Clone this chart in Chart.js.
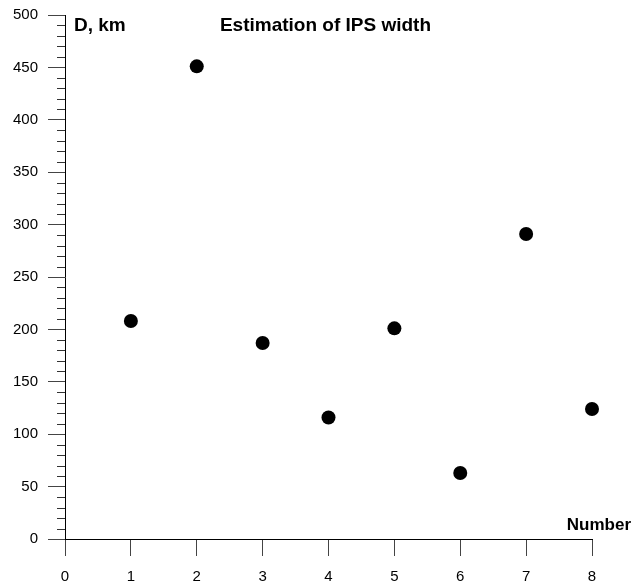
<!DOCTYPE html>
<html>
<head>
<meta charset="utf-8">
<script src="https://cdn.jsdelivr.net/npm/chart.js@4/dist/chart.umd.min.js"></script>
<style>
html,body{margin:0;padding:0;background:#fff;}
#wrap{width:635px;height:585px;}
</style>
</head>
<body>
<div id="wrap"><canvas id="c" width="635" height="585"></canvas></div>
<script>
const numbers = [1, 2, 3, 4, 5, 6, 7, 8];
const widthKm = [208, 451, 187, 116, 201, 63, 291, 124];
const xTicks = [0, 1, 2, 3, 4, 5, 6, 7, 8];
const yTicks = [0, 50, 100, 150, 200, 250, 300, 350, 400, 450, 500];
const yMinorStep = 10;
const chartTitle = "Estimation of IPS width";
const yTitle = "D, km";
const xTitle = "Number";

const FONT = "'Liberation Sans', Arial, sans-serif";

const points = numbers.map((n, i) => ({x: n, y: widthKm[i]}));

const minorTicks = {
  id: 'minorTicks',
  afterDatasetsDraw(chart) {
    const ctx = chart.ctx;
    const y = chart.scales.y;
    const left = chart.chartArea.left;
    ctx.save();
    ctx.strokeStyle = '#333';
    ctx.lineWidth = 1;
    for (let v = y.min; v <= y.max; v += yMinorStep) {
      if (yTicks.includes(v)) continue;
      const py = Math.round(y.getPixelForValue(v)) + 0.5;
      ctx.beginPath();
      ctx.moveTo(left - 8, py);
      ctx.lineTo(left, py);
      ctx.stroke();
    }
    ctx.restore();
  }
};

const labels = {
  id: 'labels',
  afterDraw(chart) {
    const ctx = chart.ctx;
    ctx.save();
    ctx.fillStyle = '#000';
    ctx.textBaseline = 'alphabetic';
    ctx.font = 'bold 19px ' + FONT;
    ctx.textAlign = 'left';
    ctx.fillText(yTitle, 74, 31);
    ctx.textAlign = 'center';
    ctx.fillText(chartTitle, 325.5, 31);
    ctx.font = 'bold 17px ' + FONT;
    ctx.textAlign = 'right';
    ctx.fillText(xTitle, 631, 530);
    ctx.restore();
  }
};

new Chart(document.getElementById('c'), {
  type: 'scatter',
  data: {
    datasets: [{
      data: points,
      backgroundColor: '#000',
      borderColor: '#000',
      pointRadius: 7,
      pointHoverRadius: 7,
      borderWidth: 0,
      showLine: false,
      clip: false
    }]
  },
  options: {
    responsive: false,
    animation: false,
    layout: {padding: {top: 15, right: 43, left: 0, bottom: 0}},
    plugins: {legend: {display: false}, tooltip: {enabled: false}, title: {display: false}},
    scales: {
      x: {
        type: 'linear',
        min: 0, max: 8,
        afterBuildTicks: s => { s.ticks = xTicks.map(v => ({value: v})); },
        afterFit: s => { s.height = 46; s.paddingLeft = 0; s.paddingRight = 0; },
        grid: {drawOnChartArea: false, drawTicks: true, tickLength: 17, color: '#444'},
        border: {display: true, color: '#000', width: 1},
        ticks: {color: '#000', font: {family: FONT, size: 15}, padding: 12, maxRotation: 0}
      },
      y: {
        type: 'linear',
        min: 0, max: 500,
        afterBuildTicks: s => { s.ticks = yTicks.map(v => ({value: v})); },
        afterFit: s => { s.width = 65; s.paddingTop = 0; s.paddingBottom = 0; },
        grid: {drawOnChartArea: false, drawTicks: true, tickLength: 17, color: '#444'},
        border: {display: true, color: '#000', width: 1},
        ticks: {color: '#000', font: {family: FONT, size: 15}, padding: 10}
      }
    }
  },
  plugins: [minorTicks, labels]
});
</script>
</body>
</html>
